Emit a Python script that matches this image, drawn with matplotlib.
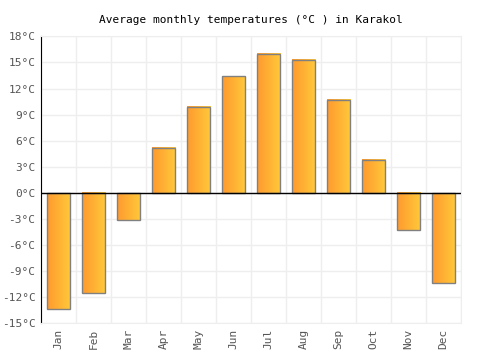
import numpy as np
import matplotlib.pyplot as plt
from matplotlib.colors import LinearSegmentedColormap

months = ['Jan', 'Feb', 'Mar', 'Apr', 'May', 'Jun', 'Jul', 'Aug', 'Sep', 'Oct', 'Nov', 'Dec']
temps = [-13.3, -11.5, -3.1, 5.2, 9.9, 13.4, 16.0, 15.3, 10.7, 3.8, -4.3, -10.3]
yticks = [-15, -12, -9, -6, -3, 0, 3, 6, 9, 12, 15, 18]

plt.rcParams['font.family'] = ['DejaVu Sans Mono']

fig = plt.figure(figsize=(5, 3.5), dpi=100)
ax = fig.add_axes([0.082, 0.076, 0.84, 0.82])

cmap = LinearSegmentedColormap.from_list('og', ['#ff9a2e', '#ffc93a'])
grad = np.linspace(0, 1, 64).reshape(1, -1)
w = 0.66
x = np.arange(len(months))
for xi, t in zip(x, temps):
    ax.imshow(grad, cmap=cmap, aspect='auto', extent=(xi - w / 2, xi + w / 2, min(0, t), max(0, t)),
              zorder=2)
ax.bar(x, temps, width=w, facecolor='none', edgecolor='#808080', linewidth=1.0, zorder=3)

ax.axhline(0, color='black', linewidth=1, zorder=4)
ax.set_xlim(-0.5, len(months) - 0.5)
ax.set_ylim(-15, 18)
ax.set_yticks(yticks)
ax.set_yticklabels([f'{v}°C' for v in yticks])
ax.set_xticks(x)
ax.set_xticklabels(months, rotation=90)
ax.set_xticks(np.arange(-0.5, len(months), 1), minor=True)
ax.grid(True, which='minor', axis='x', color='#eeeeee', linewidth=1)
ax.grid(True, which='major', axis='y', color='#eeeeee', linewidth=1)
ax.set_axisbelow(True)
ax.tick_params(axis='both', which='both', length=0, labelsize=8, colors='#555555', pad=4)

for s in ['top', 'right', 'bottom']:
    ax.spines[s].set_color('#eeeeee')
ax.spines['left'].set_color('black')

ax.set_title('Average monthly temperatures (°C ) in Karakol', fontsize=8, pad=10)

fig.savefig('out.png', dpi=100)
